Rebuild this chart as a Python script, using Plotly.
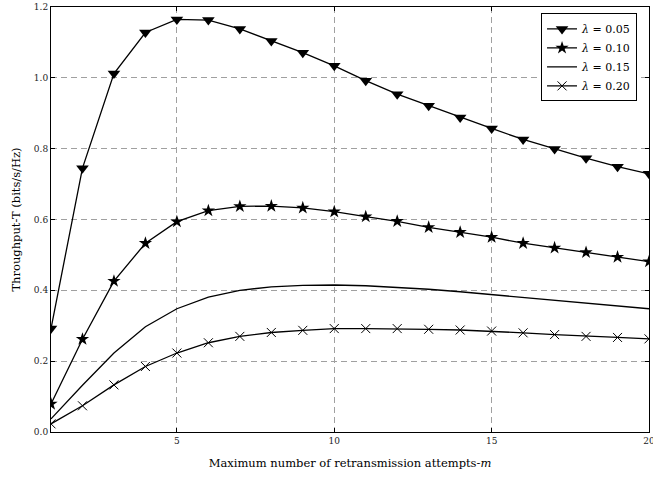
import plotly.graph_objects as go

m = list(range(1, 21))
t_005 = [0.292, 0.745, 1.012, 1.128, 1.165, 1.163, 1.138, 1.104, 1.071, 1.034,
         0.992, 0.954, 0.921, 0.888, 0.857, 0.826, 0.799, 0.773, 0.749, 0.729]
t_010 = [0.079, 0.262, 0.426, 0.533, 0.594, 0.625, 0.637, 0.638, 0.633, 0.622,
         0.608, 0.595, 0.578, 0.564, 0.550, 0.533, 0.520, 0.507, 0.494, 0.481]
t_015 = [0.037, 0.132, 0.223, 0.297, 0.348, 0.381, 0.400, 0.410, 0.414, 0.415,
         0.413, 0.409, 0.403, 0.396, 0.388, 0.380, 0.372, 0.364, 0.356, 0.348]
t_020 = [0.023, 0.074, 0.133, 0.185, 0.223, 0.252, 0.270, 0.281, 0.287, 0.292,
         0.292, 0.292, 0.290, 0.288, 0.285, 0.280, 0.275, 0.270, 0.267, 0.263]
labels = ["<i>λ</i> = 0.05", "<i>λ</i> = 0.10", "<i>λ</i> = 0.15", "<i>λ</i> = 0.20"]
x_ticks = [5, 10, 15, 20]
y_ticks = [0.0, 0.2, 0.4, 0.6, 0.8, 1.0, 1.2]

series = [
    (t_005, dict(symbol="triangle-down", size=11, color="black")),
    (t_010, dict(symbol="star", size=10, color="black")),
    (t_015, None),
    (t_020, dict(symbol="x-thin", size=9, color="black",
                 line=dict(width=1, color="black"))),
]

fig = go.Figure()
for (vals, mk), name in zip(series, labels):
    if mk is None:
        fig.add_trace(go.Scatter(x=m, y=vals, mode="lines", name=name,
                                 line=dict(color="black", width=1.3)))
    else:
        fig.add_trace(go.Scatter(x=m, y=vals, mode="lines+markers", name=name,
                                 line=dict(color="black", width=1.3), marker=mk))

font_family = "DejaVu Serif, Liberation Serif, serif"
axis_common = dict(
    showgrid=True, gridcolor="#a0a0a0", griddash="6px,4px", gridwidth=1,
    showline=True, linecolor="black", linewidth=1, mirror="allticks",
    ticks="inside", ticklen=4, tickcolor="black", zeroline=False,
    tickfont=dict(family=font_family, size=9, color="#222"),
    automargin=False, ticklabeloverflow="allow",
)

fig.update_layout(
    width=653, height=477,
    margin=dict(l=51, r=4, t=7, b=45),
    paper_bgcolor="white", plot_bgcolor="white",
    font=dict(family=font_family, color="black"),
    showlegend=True,
    legend=dict(x=0.98, y=0.985, xanchor="right", yanchor="top",
                bordercolor="black", borderwidth=1, bgcolor="white",
                font=dict(family=font_family, size=11, color="black"),
                tracegroupgap=0, itemwidth=30),
)
fig.update_xaxes(range=[1, 20], tickvals=x_ticks,
                 title=dict(text="Maximum number of retransmission attempts-<i>m</i>",
                            font=dict(family=font_family, size=11.5), standoff=14),
                 **axis_common)
fig.update_yaxes(range=[0, 1.2], tickvals=y_ticks, tickformat=".1f",
                 title=dict(text="Throughput-T (bits/s/Hz)",
                            font=dict(family=font_family, size=11.5), standoff=10),
                 **axis_common)

fig.write_html("out.html", config={"displayModeBar": False},
               post_script="document.body.style.margin='0';")
